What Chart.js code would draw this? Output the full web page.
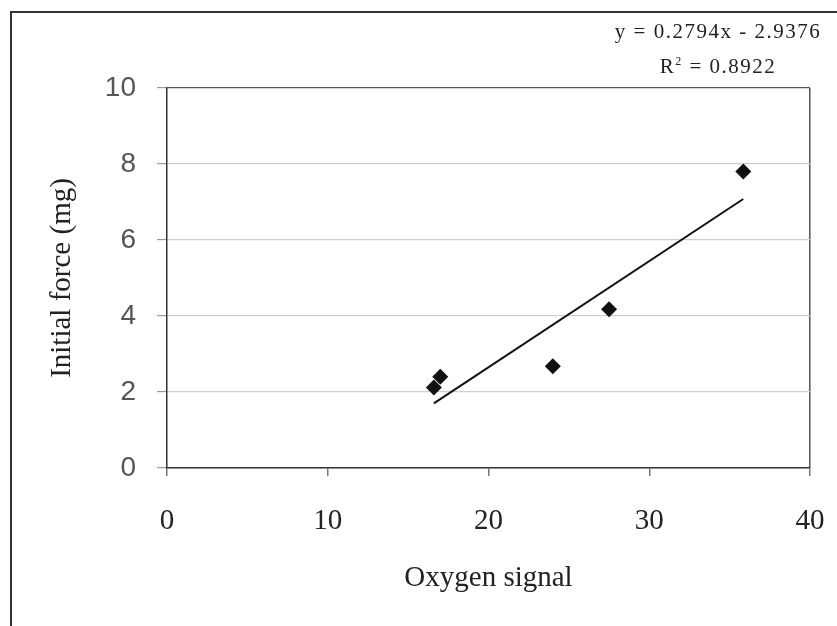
<!DOCTYPE html>
<html>
<head>
<meta charset="utf-8">
<script src="https://cdn.jsdelivr.net/npm/chart.js@4.4.1/dist/chart.umd.min.js"></script>
<style>
    html, body { margin: 0; padding: 0; background: #fff; }
    #wrap { position: relative; width: 837px; height: 626px; overflow: hidden; }
    #frame {
        position: absolute; left: 10px; top: 11px; right: -4px; bottom: -4px;
        border-top: 2px solid #333; border-left: 2px solid #333;
    }
    #eq {
        position: absolute; left: 600px; width: 236px; top: 14px;
        font-family: "Liberation Serif", serif; font-size: 21px; line-height: 35px;
        letter-spacing: 1.5px; color: #222; text-align: center;
    }
    canvas { position: absolute; left: 0; top: 0; }
</style>
</head>
<body>
<div id="wrap">
    <div id="frame"></div>
    <canvas id="chart" width="837" height="626"></canvas>
    <div id="eq">y = 0.2794x - 2.9376<br>R<sup style="font-size:12px;line-height:0">2</sup> = 0.8922</div>
</div>
<script>
// Values
const oxygenSignal = [16.6, 17.0, 24.0, 27.5, 35.85];
const initialForce = [2.12, 2.40, 2.68, 4.18, 7.80];

// Linear trendline endpoints (y = 0.2794x - 2.9376)
const trendX = [16.6, 35.85];
const trendY = [1.70, 7.08];

const xTicks = [0, 10, 20, 30, 40];
const yTicks = [0, 2, 4, 6, 8, 10];

const serif = 'Liberation Serif';
const sans = 'Liberation Sans';

function toPoints(xs, ys) {
    return xs.map((x, i) => ({ x: x, y: ys[i] }));
}

const canvas = document.getElementById('chart');

new Chart(canvas.getContext('2d'), {
    type: 'scatter',
    data: {
        datasets: [{
            label: 'Data',
            data: toPoints(oxygenSignal, initialForce),
            pointStyle: 'rectRot',
            pointRadius: 8,
            backgroundColor: '#111',
            borderColor: '#111',
            borderWidth: 0
        }, {
            label: 'Linear',
            type: 'line',
            data: toPoints(trendX, trendY),
            borderColor: '#111',
            borderWidth: 2,
            pointRadius: 0,
            fill: false
        }]
    },
    options: {
        responsive: false,
        animation: false,
        layout: { padding: { left: 0, top: 88, right: 27, bottom: 0 } },
        plugins: { legend: { display: false }, tooltip: { enabled: false } },
        scales: {
            x: {
                type: 'linear',
                min: 0, max: 40,
                afterFit: (s) => {
                    s.height = 158;
                    // keep the plot edges fixed, labels may overhang
                    s.paddingLeft = 0;
                    s.paddingRight = 0;
                },
                afterBuildTicks: (s) => { s.ticks = xTicks.map(v => ({ value: v })); },
                ticks: { font: { family: serif, size: 29 }, color: '#222', padding: 28 },
                grid: {
                    color: (c) => c.tick && c.tick.value === 40 ? '#555' : 'transparent',
                    tickColor: '#777',
                    tickLength: 8,
                    lineWidth: 1.5
                },
                border: { color: '#333', width: 1.5 },
                title: {
                    display: true, text: 'Oxygen signal',
                    font: { family: serif, size: 29 }, color: '#222',
                    padding: { top: 0, bottom: 30 }
                }
            },
            y: {
                min: 0, max: 10,
                afterFit: (s) => {
                    s.width = 167;
                    s.paddingTop = 0;
                    s.paddingBottom = 0;
                },
                afterBuildTicks: (s) => { s.ticks = yTicks.map(v => ({ value: v })); },
                ticks: { font: { family: sans, size: 28 }, color: '#555', padding: 21 },
                grid: {
                    color: (c) => c.tick && c.tick.value === 10 ? '#555' : '#cfcfcf',
                    tickColor: '#999',
                    tickLength: 10,
                    lineWidth: 1.2
                },
                border: { color: '#333', width: 1.5 },
                title: {
                    display: true, text: 'Initial force (mg)',
                    font: { family: serif, size: 29 }, color: '#222',
                    padding: { top: 45, bottom: 0 }
                }
            }
        }
    }
});
</script>
</body>
</html>
